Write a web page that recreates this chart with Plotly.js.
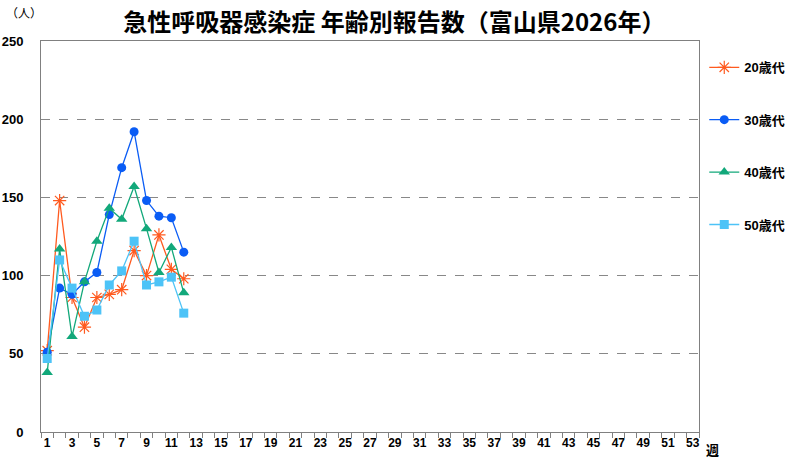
<!DOCTYPE html>
<html><head><meta charset="utf-8">
<script src="https://cdn.plot.ly/plotly-3.0.1.min.js"></script>
<style>body{margin:0;background:#fff}#chart{width:800px;height:462px}</style>
</head><body><div id="chart"></div>
<script>
const weeks = [1,2,3,4,5,6,7,8,9,10,11,12];
const seriesNames = ['20歳代','30歳代','40歳代','50歳代'];
const age20 = [52,148,86,67,86,88,91,116,100,126,104,98];
const age30 = [51,92,88,96,102,139,169,192,148,138,137,115];
const age40 = [38,117,61,96,122,143,136,157,130,102,118,89];
const age50 = [47,110,92,74,78,94,103,122,94,96,99,76];
const xTickVals = [];
for (let w = 1; w <= 53; w += 2) xTickVals.push(w);
const yTickVals = [0,50,100,150,200,250];

const colors = ['#FF5A1F','#0A5CF5','#12A87A','#4DC3F7'];
const symbols = ['asterisk-open','circle','triangle-up','square'];
const sizes = [11,9,10,9];
const data = [age20, age30, age40, age50].map((vals, i) => ({
  x: weeks, y: vals, name: seriesNames[i], type: 'scatter', mode: 'lines+markers',
  legendgroup: 'g' + i,
  line: {color: colors[i], width: 1.3},
  marker: {symbol: symbols[i], size: sizes[i], color: colors[i], line: {color: colors[i], width: i === 0 ? 1.2 : 0}}
}));

const font = 'Arial, "Liberation Sans", "Noto Sans CJK JP", sans-serif';
const layout = {
  width: 800, height: 462,
  margin: {l: 41, r: 101, t: 41, b: 30, autoexpand: false},
  paper_bgcolor: '#fff', plot_bgcolor: '#fff',
  showlegend: true,
  font: {family: font, size: 12, color: '#000'},
  title: {text: '<b>急性呼吸器感染症 年齢別報告数（富山県2026年）</b>',
    font: {family: '"Noto Sans CJK JP", sans-serif', size: 24, color: '#000'},
    x: 0.493, xref: 'container', xanchor: 'center', y: 0.952, yref: 'container', yanchor: 'middle'},
  xaxis: {range: [0.5, 53.5], tickmode: 'array', tickvals: xTickVals, ticktext: xTickVals.map(String),
    ticks: '', showgrid: false, zeroline: false, showline: true, linecolor: '#808080', linewidth: 1, mirror: true,
    tickfont: {family: font, size: 12, color: '#000', weight: 'bold'},
    minor: {tickmode: 'linear', tick0: 0.5, dtick: 1, ticks: 'outside', ticklen: 5, tickcolor: '#808080', tickwidth: 1, showgrid: false},
    fixedrange: true},
  yaxis: {range: [0, 250], tickmode: 'array', tickvals: yTickVals, ticks: '', ticklabelstandoff: 14,
    showgrid: true, gridcolor: '#888', griddash: 'dash', gridwidth: 1, zeroline: false,
    showline: true, linecolor: '#808080', linewidth: 1, mirror: true,
    tickfont: {family: font, size: 13, color: '#000', weight: 'bold'}, fixedrange: true},
  legend: {x: 1.008, xanchor: 'left', y: 0.971, yanchor: 'top', tracegroupgap: 32.5,
    font: {family: font, size: 13, color: '#000', weight: 'bold'}, bgcolor: 'rgba(0,0,0,0)'},
  annotations: [
    {text: '（人）', xref: 'paper', yref: 'paper', x: -0.026, y: 1.074, xanchor: 'center', yanchor: 'middle', showarrow: false,
     font: {family: '"Noto Sans CJK JP", sans-serif', size: 12, color: '#000'}},
    {text: '<b>週</b>', xref: 'paper', yref: 'paper', x: 1.007, y: -0.045, xanchor: 'left', yanchor: 'middle', showarrow: false,
     font: {family: '"Noto Sans CJK JP", sans-serif', size: 13, color: '#000'}}
  ]
};
Plotly.newPlot('chart', data, layout, {displayModeBar: false, staticPlot: true});
</script></body></html>
